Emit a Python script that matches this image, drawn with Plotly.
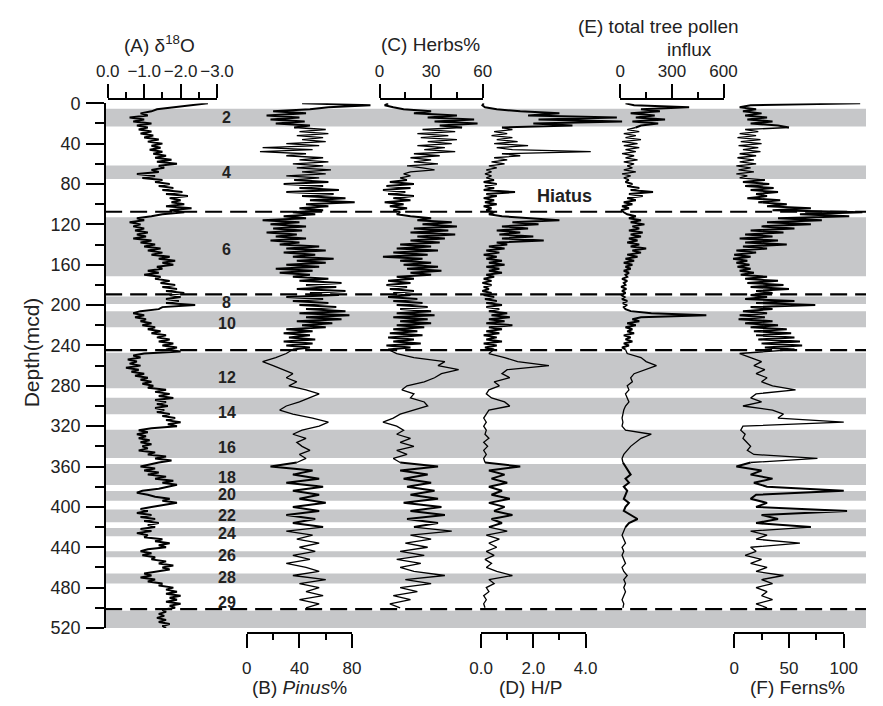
import plotly.graph_objects as go

W, H = 883, 706
FONT = "Liberation Sans, Arial, Helvetica, sans-serif"

# ---------------- data ----------------
# depth sampling grids (mcd)
depth_fine = list(range(0, 246, 2))        # 0 .. 244
depth_coarse = list(range(248, 504, 4))    # 248 .. 500
depth_d18o = list(range(0, 522, 2))        # 0 .. 520

d18o = [
    -2.75, -2.3, -1.7, -1.35, -1.2, -0.9, -1.1, -0.6, -1.0, -0.7,
    -1.2, -0.8, -1.1, -0.85, -1.2, -0.9, -1.25, -1.0, -1.4, -1.1,
    -1.5, -1.2, -1.45, -1.15, -1.5, -1.25, -1.6, -1.3, -1.75, -1.35,
    -1.9, -1.4, -1.55, -1.2, -1.4, -0.8, -1.3, -0.95, -1.5, -1.3,
    -1.7, -1.4, -1.8, -1.5, -2.05, -1.6, -2.2, -1.7, -2.0, -1.75,
    -2.1, -1.6, -2.3, -1.7, -2.1, -1.5, -1.2, -0.8, -1.0, -0.6,
    -0.9, -0.7, -1.0, -0.75, -1.1, -0.8, -1.05, -0.7, -1.2, -0.9,
    -1.3, -1.0, -1.45, -1.1, -1.5, -1.2, -1.7, -1.4, -1.85, -1.5,
    -1.8, -1.35, -1.5, -1.1, -1.4, -1.0, -1.45, -1.3, -1.7, -1.45,
    -1.85, -1.5, -1.9, -1.6, -2.1, -1.7, -2.0, -1.6, -1.95, -1.6,
    -2.4, -1.5, -1.4, -0.9, -0.7, -1.0, -0.75, -1.05, -0.9, -1.2,
    -0.95, -1.3, -1.1, -1.45, -1.2, -1.6, -1.35, -1.7, -1.4, -1.8,
    -1.5, -1.9, -1.6, -2.0, -1.0, -0.7, -0.9, -0.55, -0.8, -0.6,
    -0.9, -0.5, -0.85, -0.65, -1.0, -0.75, -1.1, -0.9, -1.2, -0.95,
    -1.25, -1.1, -1.6, -1.3, -1.7, -1.4, -1.8, -1.3, -1.6, -1.35,
    -1.65, -1.3, -1.55, -1.35, -1.7, -1.5, -1.85, -1.6, -2.0, -1.65,
    -1.9, -1.2, -0.85, -1.1, -0.8, -1.05, -0.85, -1.15, -0.9, -1.2,
    -0.95, -1.1, -0.85, -1.3, -1.1, -1.6, -1.3, -1.75, -1.4, -1.1,
    -0.9, -1.3, -1.0, -1.4, -1.1, -1.6, -1.3, -1.8, -1.5, -1.9,
    -1.6, -1.4, -0.95, -0.8, -1.1, -1.3, -1.7, -1.5, -1.9, -1.5,
    -1.2, -0.9, -1.1, -0.8, -1.2, -0.9, -1.3, -1.0, -1.4, -1.1,
    -1.3, -0.9, -1.2, -0.8, -1.1, -1.0, -1.5, -1.3, -1.7, -1.4,
    -1.6, -1.1, -0.9, -1.2, -0.95, -1.3, -1.2, -1.6, -1.4, -1.8,
    -1.5, -1.7, -1.3, -1.0, -1.2, -0.9, -1.3, -1.1, -1.5, -1.4,
    -1.8, -1.6, -1.9, -1.6, -2.0, -1.7, -1.9, -1.6, -2.0, -1.7,
    -1.85, -1.5, -1.6, -1.4, -1.55, -1.35, -1.6, -1.4, -1.7, -1.5,
    -1.6,
]

pinus_fine = [
    42, 94, 62, 48, 20, 45, 15, 40, 18, 44,
    22, 48, 36, 60, 40, 62, 38, 58, 42, 60,
    30, 55, 12, 50, 10, 45, 30, 58, 40, 62,
    35, 58, 38, 64, 42, 60, 30, 55, 36, 62,
    28, 58, 40, 70, 30, 66, 42, 75, 48, 82,
    45, 62, 40, 58, 35, 52, 28, 45, 12, 40,
    18, 45, 20, 42, 15, 38, 22, 45, 18, 40,
    25, 55, 30, 60, 28, 52, 35, 66, 38, 60,
    30, 55, 22, 50, 25, 48, 35, 62, 40, 72,
    45, 68, 38, 75, 48, 70, 30, 58, 35, 62,
    40, 68, 45, 75, 40, 78, 45, 72, 38, 65,
    42, 60, 30, 50, 28, 48, 32, 52, 28, 50,
    30, 48, 35,
]
pinus_coarse = [
    30, 22, 12, 20, 28, 35, 30, 38, 32, 45,
    55, 48, 40, 30, 25, 35, 50, 62, 55, 42,
    35, 45, 38, 42, 48, 40, 45, 38, 18, 50,
    35, 55, 30, 58, 35, 55, 40, 60, 35, 55,
    30, 52, 35, 58, 30, 50, 38, 55, 40, 52,
    35, 48, 30, 45, 55, 35, 60, 40, 55, 45,
    58, 40, 55, 45,
]

herbs_fine = [
    5, 3, 8, 14, 30, 20, 45, 28, 55, 32,
    57, 35, 48, 25, 44, 22, 40, 24, 45, 28,
    42, 22, 38, 26, 44, 20, 35, 18, 30, 20,
    34, 16, 25, 32, 18, 14, 18, 12, 16, 6,
    20, 4, 18, 2, 15, 5, 20, 8, 18, 3,
    14, 6, 16, 8, 12, 10, 18, 30, 22, 42,
    25, 45, 20, 40, 18, 44, 22, 38, 18, 35,
    12, 30, 10, 34, 8, 28, 2, 25, 12, 30,
    14, 34, 16, 36, 18, 30, 10, 20, 5, 18,
    4, 16, 6, 20, 8, 18, 5, 22, 8, 25,
    10, 28, 12, 30, 10, 32, 8, 28, 12, 30,
    10, 26, 8, 22, 6, 25, 5, 20, 8, 24,
    4, 18, 5,
]
herbs_coarse = [
    10, 20, 38, 34, 46, 36, 32, 26, 16, 13,
    20, 18, 26, 28, 20, 12, 8, 2, 10, 14,
    10, 18, 12, 20, 10, 16, 8, 12, 34, 12,
    28, 14, 30, 16, 32, 18, 34, 14, 36, 18,
    38, 16, 34, 20, 42, 18, 30, 15, 28, 12,
    26, 10, 24, 12, 20, 38, 15, 30, 12, 22,
    8, 18, 6, 12,
]

hp_fine = [
    0.1, 0.05, 0.15, 0.6, 1.5, 3.0, 1.8, 5.2, 2.2, 5.4,
    2.0, 3.5, 0.8, 1.2, 0.5, 1.0, 0.4, 1.2, 0.6, 1.4,
    0.5, 1.8, 0.6, 1.2, 4.2, 0.8, 1.5, 0.5, 1.0, 0.4,
    0.9, 0.3, 0.6, 0.2, 0.4, 0.15, 0.4, 0.2, 0.5, 0.1,
    0.6, 0.15, 0.5, 0.1, 1.3, 0.2, 0.6, 0.1, 0.5, 0.15,
    0.6, 0.1, 0.4, 0.2, 0.5, 0.3, 0.8, 2.0, 3.0, 1.2,
    2.2, 0.8, 1.8, 0.6, 1.5, 0.7, 2.0, 0.8, 2.4, 0.6,
    1.0, 0.3, 0.9, 0.2, 0.7, 0.1, 0.6, 0.2, 0.8, 0.3,
    0.9, 0.2, 0.7, 0.3, 0.8, 0.2, 0.5, 0.1, 0.4, 0.05,
    0.4, 0.1, 0.3, 0.05, 0.4, 0.1, 0.5, 0.15, 0.6, 0.2,
    0.8, 0.2, 0.7, 0.3, 1.0, 0.4, 1.1, 0.3, 0.9, 0.2,
    1.2, 0.3, 0.8, 0.2, 0.7, 0.1, 0.6, 0.2, 0.8, 0.1,
    0.6, 0.15, 0.5,
]
hp_coarse = [
    0.3, 0.9, 1.4, 2.6, 1.0, 0.8, 1.1, 0.5, 0.7, 0.3,
    0.2, 0.4, 0.9, 1.1, 0.3, 0.2, 0.1, 0.2, 0.1, 0.2,
    0.15, 0.3, 0.1, 0.25, 0.1, 0.2, 0.1, 0.15, 1.5, 0.3,
    0.9, 0.4, 1.0, 0.3, 0.8, 0.4, 1.1, 0.3, 0.9, 0.5,
    1.2, 0.4, 0.8, 0.3, 1.0, 0.2, 0.7, 0.3, 0.6, 0.2,
    0.5, 0.15, 0.4, 0.2, 0.6, 1.2, 0.3, 0.5, 0.2, 0.3,
    0.1, 0.2, 0.1, 0.15,
]

influx_fine = [
    30, 80, 400, 120, 230, 60, 200, 90, 260, 70,
    220, 120, 90, 40, 110, 20, 90, 30, 120, 10,
    100, 20, 110, 30, 90, 10, 80, 30, 100, 20,
    80, 40, 70, 20, 90, 10, 60, 20, 50, 30,
    70, 40, 110, 60, 190, 50, 130, 40, 90, 20,
    70, 10, 50, 5, 20, 40, 90, 50, 120, 60,
    140, 70, 110, 50, 130, 60, 120, 50, 100, 40,
    110, 60, 150, 70, 120, 40, 100, 30, 80, 20,
    70, 30, 60, 20, 50, 30, 40, 10, 40, 20,
    30, 5, 35, 10, 30, 5, 25, 10, 40, 15,
    35, 20, 30, 60, 180, 500, 120, 70, 110, 40,
    90, 30, 70, 40, 80, 20, 60, 30, 70, 20,
    50, 10, 30,
]
influx_coarse = [
    40, 120, 150, 210, 140, 80, 60, 70, 40, 50,
    30, 40, 50, 30, 20, 15, 10, 15, 10, 30,
    180, 120, 90, 60, 40, 20, 10, 15, 30, 40,
    60, 30, 50, 20, 40, 30, 20, 50, 30, 20,
    60, 100, 50, 30, 20, 10, 20, 30, 10, 20,
    10, 20, 30, 10, 20, 40, 20, 30, 20, 30,
    20, 10, 20, 15,
]

ferns_fine = [
    115, 15, 5, 20, 8, 25, 10, 30, 12, 35,
    15, 40, 50, 10, 22, 5, 20, 3, 24, 6,
    25, 4, 22, 8, 24, 5, 20, 3, 18, 5,
    20, 2, 15, 4, 18, 2, 12, 5, 28, 8,
    32, 10, 36, 15, 40, 20, 30, 12, 42, 22,
    48, 30, 70, 35, 117, 60, 105, 40, 80, 30,
    70, 25, 55, 15, 45, 10, 35, 5, 40, 10,
    48, 8, 30, 2, 20, 0, 15, -1, 12, 2,
    14, 3, 15, 5, 18, 6, 30, 10, 40, 12,
    45, 15, 50, 20, 35, 15, 30, 10, 55, 20,
    74, 15, 35, 8, 30, 5, 28, 4, 35, 10,
    40, 15, 48, 18, 52, 20, 55, 22, 60, 25,
    62, 28, 55,
]
ferns_coarse = [
    5, 15, 25, 18, 28, 20, 30, 25, 35, 56,
    20, 15, 25, 8, 35, 45, 40, 100, 8, 6,
    10, 8, 12, 15, 12, 18, 76, 15, 2, 25,
    15, 35, 18, 30, 100, 20, 15, 30, 20, 103,
    25, 40, 20, 70, 15, 30, 20, 60, 15, 20,
    10, 25, 15, 30, 20, 45, 25, 35, 20, 30,
    25, 35, 20, 30,
]

# glacial stages (even MIS numbers) as depth intervals, with label depth
stage_names = ["2", "4", "6", "8", "10", "12", "14", "16", "18", "20", "22", "24", "26", "28"]
stage_top = [5.5, 61.6, 113.0, 191.5, 206.0, 247.2, 291.8, 323.5, 357.6, 384.2, 402.5, 421.0, 444.0, 466.0]
stage_bot = [23.1, 75.1, 171.4, 199.0, 222.0, 282.4, 308.1, 351.5, 378.4, 393.8, 415.3, 429.0, 450.0, 476.0]
stage_label_depth = [14.4, 69, 145, 197, 218, 271.6, 306, 341, 371, 388, 409, 426, 448, 470]
extra_band = (502.9, 520.0)
label_29_depth = 495
hiatus_depths = [107.5, 189.4, 244.6, 501.3]
hiatus_label_depth = 92

depth_ticks = list(range(0, 521, 40))

# ---------------- geometry / style ----------------
PLOT_L, PLOT_R = 96.3, 883.0
Y_TOP, Y_BOT = 96.0, 636.0
TOP_AXIS_Y, BOT_AXIS_Y = 91.7, 640.7
DENSE_W, THIN_W = 2.0, 1.3
# pollen records are sampled densely in some intervals only; those parts are drawn heavier
dense_intervals = [(0, 24), (76, 246), (356, 420)]


def xf(px):
    return px / W


def yf(py):
    return (H - py) / H


def full_range(va, pa, vb, pb):
    s = (vb - va) / (pb - pa)
    return [va + (PLOT_L - pa) * s, va + (PLOT_R - pa) * s]


def is_dense(d0, d1):
    mid = 0.5 * (d0 + d1)
    return any(a <= mid < b for a, b in dense_intervals)


def split_by_density(depths, vals):
    """Split a record into runs that share the same line weight (runs share end points)."""
    runs = []
    cur_d, cur_v = [depths[0]], [vals[0]]
    cur_dense = is_dense(depths[0], depths[1])
    for k in range(1, len(depths)):
        seg_dense = is_dense(depths[k - 1], depths[k])
        if seg_dense != cur_dense:
            runs.append((cur_d, cur_v, DENSE_W if cur_dense else THIN_W))
            cur_d, cur_v = [depths[k - 1]], [vals[k - 1]]
            cur_dense = seg_dense
        cur_d.append(depths[k])
        cur_v.append(vals[k])
    runs.append((cur_d, cur_v, DENSE_W if cur_dense else THIN_W))
    return runs


panels = [
    dict(depth=depth_d18o, vals=d18o, all_dense=True, ref=(0.0, 99.0, -3.0, 212.0), side="top",
         ticks=[0, -1, -2, -3], text=["0.0", "\u22121.0", "\u22122.0", "\u22123.0"],
         minor=[-0.5, -1.5, -2.5]),
    dict(depth=depth_fine + depth_coarse, vals=pinus_fine + pinus_coarse, all_dense=False,
         ref=(0, 242.8, 80, 351.6), side="bottom",
         ticks=[0, 40, 80], text=["0", "40", "80"], minor=[20, 60]),
    dict(depth=depth_fine + depth_coarse, vals=herbs_fine + herbs_coarse, all_dense=False,
         ref=(0, 380.0, 60, 486.7), side="top",
         ticks=[0, 30, 60], text=["0", "30", "60"], minor=[15, 45]),
    dict(depth=depth_fine + depth_coarse, vals=hp_fine + hp_coarse, all_dense=False,
         ref=(0.0, 485.0, 4.0, 593.0), side="bottom",
         ticks=[0, 2, 4], text=["0.0", "2.0", "4.0"], minor=[1, 3]),
    dict(depth=depth_fine + depth_coarse, vals=influx_fine + influx_coarse, all_dense=False,
         ref=(0, 629.0, 600, 735.7), side="top",
         ticks=[0, 300, 600], text=["0", "300", "600"], minor=[150, 450]),
    dict(depth=depth_fine + depth_coarse, vals=ferns_fine + ferns_coarse, all_dense=False,
         ref=(0, 746.7, 100, 860.0), side="bottom",
         ticks=[0, 50, 100], text=["0", "50", "100"], minor=[25, 75]),
]

fig = go.Figure()
layout_axes = {}
n = len(panels)
for i, p in enumerate(panels):
    assert len(p["depth"]) == len(p["vals"]), (i, len(p["depth"]), len(p["vals"]))
    data_ax = i + 1
    disp_ax = i + 1 + n
    dname = "x" if data_ax == 1 else f"x{data_ax}"
    if p["all_dense"]:
        runs = [(p["depth"], p["vals"], DENSE_W)]
    else:
        runs = split_by_density(p["depth"], p["vals"])
    for depths, vals, lw in runs:
        fig.add_trace(go.Scatter(
            x=vals, y=depths, xaxis=dname, yaxis="y", mode="lines",
            line=dict(color="black", width=lw), showlegend=False, hoverinfo="skip"))
    fig.add_trace(go.Scatter(
        x=[p["ref"][0]], y=[-50], xaxis=f"x{disp_ax}", yaxis="y", mode="markers",
        marker=dict(size=1, opacity=0), showlegend=False, hoverinfo="skip"))
    va, pa, vb, pb = p["ref"]
    layout_axes["xaxis" if data_ax == 1 else f"xaxis{data_ax}"] = dict(
        domain=[xf(PLOT_L), 1.0], range=full_range(va, pa, vb, pb),
        visible=False, anchor="y", fixedrange=True)
    top = p["side"] == "top"
    layout_axes[f"xaxis{disp_ax}"] = dict(
        domain=[xf(pa), xf(pb)], range=[va, vb], anchor="free",
        position=yf(TOP_AXIS_Y if top else BOT_AXIS_Y), side=p["side"],
        showline=True, linecolor="black", linewidth=2, showgrid=False, zeroline=False,
        ticks="outside", ticklen=14, tickwidth=2, tickcolor="black",
        tickvals=p["ticks"], ticktext=p["text"], tickangle=0,
        ticklabelstandoff=0 if top else 6,
        minor=dict(tickvals=p["minor"], ticks="outside", ticklen=6, tickwidth=2,
                   tickcolor="black", showgrid=False),
        tickfont=dict(family=FONT, size=17, color="#222"), fixedrange=True)

shapes = []
for t, b in zip(stage_top + [extra_band[0]], stage_bot + [extra_band[1]]):
    shapes.append(dict(type="rect", xref="paper", yref="y", x0=xf(PLOT_L), x1=1.0,
                       y0=t, y1=b, fillcolor="#c6c7c9", line=dict(width=0), layer="below"))
for d in hiatus_depths:
    shapes.append(dict(type="line", xref="paper", yref="y", x0=xf(PLOT_L), x1=1.0,
                       y0=d, y1=d, line=dict(color="black", width=2.2, dash="17px,8px"),
                       layer="above"))

annotations = []
for name, d in zip(stage_names + ["29"], stage_label_depth + [label_29_depth]):
    annotations.append(dict(x=xf(222), y=d, xref="paper", yref="y", text=f"<b>{name}</b>",
                            showarrow=False, font=dict(family=FONT, size=16, color="#222"),
                            xanchor="center", yanchor="middle"))
annotations.append(dict(x=xf(571), y=hiatus_label_depth, xref="paper", yref="y",
                        text="<b>Hiatus</b>", showarrow=False,
                        font=dict(family=FONT, size=18, color="#222"),
                        xanchor="center", yanchor="middle"))

titles = [
    ("(A) \u03b4<sup>18</sup>O", 153, 35),
    ("(C) Herbs%", 433, 35),
    ("(E) total tree pollen", 668, 17),
    ("influx", 700, 41),
    ("(B) <i>Pinus</i>%", 297, 697),
    ("(D) H/P", 536, 697),
    ("(F) Ferns%", 812, 697),
]
for txt, px, py in titles:
    annotations.append(dict(x=xf(px), y=yf(py), xref="paper", yref="paper", text=txt,
                            showarrow=False, font=dict(family=FONT, size=19, color="#222"),
                            xanchor="center", yanchor="middle"))
annotations.append(dict(x=xf(20), y=yf(352), xref="paper", yref="paper", text="Depth(mcd)",
                        textangle=-90, showarrow=False,
                        font=dict(family=FONT, size=21, color="#222"),
                        xanchor="center", yanchor="middle"))

fig.update_layout(
    width=W, height=H, margin=dict(l=0, r=0, t=0, b=0),
    paper_bgcolor="white", plot_bgcolor="rgba(0,0,0,0)",
    showlegend=False, shapes=shapes, annotations=annotations,
    yaxis=dict(domain=[yf(Y_BOT), yf(Y_TOP)], range=[520, 0], autorange=False,
               anchor="free", position=xf(PLOT_L), showline=True, linecolor="black",
               linewidth=2, showgrid=False, zeroline=False, ticks="outside", ticklen=18,
               tickwidth=2, tickcolor="black", tickvals=depth_ticks, ticklabelstandoff=2,
               minor=dict(dtick=40, tick0=20, ticks="outside", ticklen=9, tickwidth=2,
                          tickcolor="black", showgrid=False),
               tickfont=dict(family=FONT, size=18, color="#222"), fixedrange=True),
    **layout_axes,
)

fig.write_html("out.html")
